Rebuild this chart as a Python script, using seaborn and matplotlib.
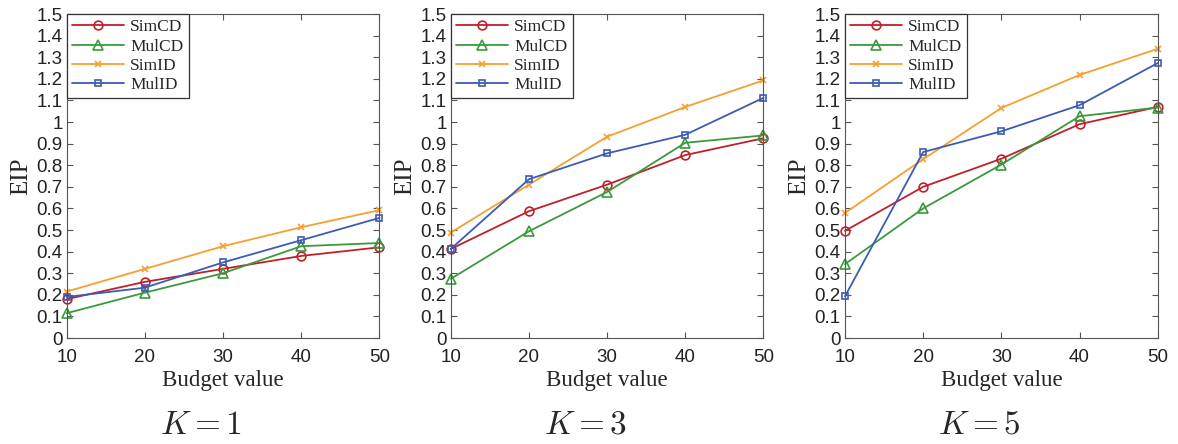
import numpy as np
import pandas as pd
import matplotlib
matplotlib.use("Agg")
import matplotlib.pyplot as plt
import seaborn as sns

sns.set_style("ticks")
plt.rcParams["font.family"] = ["Liberation Sans", "DejaVu Sans"]
plt.rcParams["mathtext.fontset"] = "cm"

# data
budget = [10, 20, 30, 40, 50]
methods = ["SimCD", "MulCD", "SimID", "MulID"]
k_labels = ["$K = 1$", "$K = 3$", "$K = 5$"]

simcd_k1 = [0.18, 0.26, 0.32, 0.38, 0.42]
mulcd_k1 = [0.115, 0.21, 0.30, 0.425, 0.44]
simid_k1 = [0.215, 0.32, 0.425, 0.513, 0.592]
mulid_k1 = [0.19, 0.233, 0.35, 0.453, 0.556]

simcd_k3 = [0.412, 0.587, 0.71, 0.847, 0.925]
mulcd_k3 = [0.274, 0.494, 0.676, 0.904, 0.938]
simid_k3 = [0.488, 0.71, 0.932, 1.07, 1.193]
mulid_k3 = [0.412, 0.735, 0.855, 0.941, 1.112]

simcd_k5 = [0.496, 0.70, 0.83, 0.99, 1.07]
mulcd_k5 = [0.342, 0.60, 0.803, 1.027, 1.067]
simid_k5 = [0.579, 0.828, 1.065, 1.218, 1.339]
mulid_k5 = [0.193, 0.861, 0.957, 1.078, 1.273]

panels = [
    [simcd_k1, mulcd_k1, simid_k1, mulid_k1],
    [simcd_k3, mulcd_k3, simid_k3, mulid_k3],
    [simcd_k5, mulcd_k5, simid_k5, mulid_k5],
]
yticks = [round(0.1 * i, 1) for i in range(16)]

colors = ["#c0202a", "#3a9a3c", "#f5a030", "#3c5cb4"]
markers = ["o", "^", "x", "s"]
msizes = [6.3, 7.0, 4.5, 4.5]

fig = plt.figure(figsize=(11.78, 4.44), dpi=100)
lefts = [0.0566, 0.3826, 0.7173]
width = 0.2655
bottom, height = 0.2387, 0.7297
frame = "#555555"

for i, series in enumerate(panels):
    ax = fig.add_axes([lefts[i], bottom, width, height])
    for name, vals, c, m, ms in zip(methods, series, colors, markers, msizes):
        df = pd.DataFrame({"budget": budget, "EIP": vals})
        sns.lineplot(data=df, x="budget", y="EIP", ax=ax, color=c, marker=m,
                     markersize=ms, markerfacecolor="none", markeredgecolor=c,
                     markeredgewidth=1.2, linewidth=1.3, label=name, clip_on=False)
    ax.set_xlim(10, 50)
    ax.set_ylim(0, 1.5)
    ax.set_xticks(budget)
    ax.set_xticklabels([str(b) for b in budget])
    ax.set_yticks(yticks)
    ax.set_yticklabels([f"{v:g}" for v in yticks])
    ax.tick_params(direction="in", top=True, right=True, length=4, width=0.8,
                   color=frame, labelsize=13.5, labelcolor="#222222")
    ax.tick_params(axis="x", pad=8)
    ax.tick_params(axis="y", pad=3)
    for sp in ax.spines.values():
        sp.set_visible(True)
        sp.set_color(frame)
        sp.set_linewidth(0.8)
    ax.set_xlabel("Budget value", family="Liberation Serif", fontsize=16.5, labelpad=3)
    ax.set_ylabel("EIP", family="Liberation Serif", fontsize=18, labelpad=3)
    leg = ax.legend(loc="upper left", borderaxespad=0, fancybox=False,
                    prop={"family": "Liberation Serif", "size": 12.5},
                    handlelength=3.0, labelspacing=0.18, handletextpad=0.35,
                    borderpad=0.3, framealpha=1)
    leg.get_frame().set_edgecolor("#333333")
    leg.get_frame().set_linewidth(0.9)
    cx = lefts[i] + width / 2 - 22 / 1178
    fig.text(cx, 1 - 425 / 444, k_labels[i], ha="center", va="center", fontsize=24)

fig.savefig("out.png", dpi=100)
